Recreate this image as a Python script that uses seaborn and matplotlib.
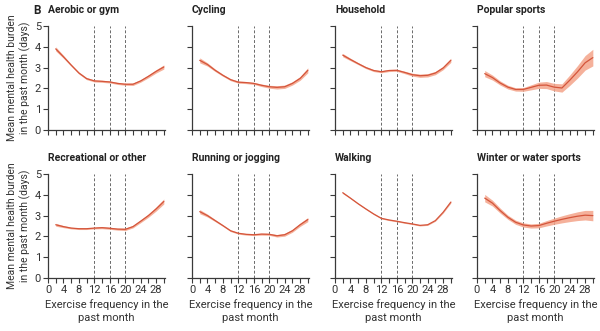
import matplotlib
matplotlib.use("Agg")
import matplotlib.pyplot as plt
import numpy as np
import pandas as pd
import seaborn as sns

# Exercise frequency (days in past month) at which the model was evaluated
freq = [2, 4, 6, 8, 10, 12, 14, 16, 18, 20, 22, 24, 26, 28, 30]

panel_titles = ["Aerobic or gym", "Cycling", "Household", "Popular sports",
                "Recreational or other", "Running or jogging", "Walking",
                "Winter or water sports"]

# Mean mental health burden (days) for each exercise type
aerobic = [3.90, 3.52, 3.12, 2.74, 2.47, 2.36, 2.34, 2.31, 2.24, 2.20, 2.20, 2.36, 2.58, 2.82, 3.03]
cycling = [3.35, 3.15, 2.87, 2.63, 2.42, 2.30, 2.28, 2.24, 2.15, 2.08, 2.05, 2.08, 2.24, 2.48, 2.87]
household = [3.60, 3.39, 3.19, 3.00, 2.86, 2.80, 2.86, 2.87, 2.77, 2.66, 2.61, 2.63, 2.74, 2.98, 3.35]
popular = [2.71, 2.52, 2.26, 2.06, 1.95, 1.95, 2.05, 2.15, 2.16, 2.06, 2.02, 2.39, 2.79, 3.23, 3.48]
recreational = [2.56, 2.47, 2.40, 2.37, 2.37, 2.40, 2.42, 2.39, 2.35, 2.34, 2.47, 2.73, 3.00, 3.32, 3.68]
running = [3.19, 3.00, 2.76, 2.52, 2.27, 2.15, 2.10, 2.08, 2.11, 2.10, 2.03, 2.08, 2.27, 2.56, 2.81]
walking = [4.10, 3.84, 3.57, 3.32, 3.08, 2.87, 2.79, 2.73, 2.66, 2.60, 2.53, 2.56, 2.76, 3.16, 3.65]
winter = [3.84, 3.60, 3.24, 2.92, 2.68, 2.55, 2.50, 2.52, 2.63, 2.73, 2.82, 2.90, 2.97, 3.02, 3.00]

# Half-width of the 95% confidence band
aerobic_ci = [0.10, 0.07, 0.05, 0.05, 0.05, 0.05, 0.05, 0.05, 0.05, 0.05, 0.06, 0.06, 0.07, 0.08, 0.10]
cycling_ci = [0.12, 0.08, 0.06, 0.05, 0.05, 0.05, 0.05, 0.05, 0.06, 0.07, 0.08, 0.08, 0.08, 0.09, 0.12]
household_ci = [0.08, 0.06, 0.05, 0.05, 0.05, 0.05, 0.05, 0.05, 0.06, 0.07, 0.08, 0.08, 0.08, 0.08, 0.10]
popular_ci = [0.15, 0.12, 0.10, 0.09, 0.08, 0.09, 0.12, 0.15, 0.17, 0.18, 0.20, 0.25, 0.30, 0.35, 0.40]
recreational_ci = [0.07, 0.05, 0.04, 0.04, 0.04, 0.04, 0.05, 0.05, 0.05, 0.06, 0.06, 0.07, 0.08, 0.10, 0.12]
running_ci = [0.10, 0.07, 0.05, 0.04, 0.04, 0.04, 0.04, 0.04, 0.05, 0.05, 0.06, 0.07, 0.07, 0.08, 0.10]
walking_ci = [0.04, 0.03, 0.03, 0.03, 0.03, 0.03, 0.03, 0.03, 0.03, 0.03, 0.03, 0.03, 0.03, 0.04, 0.05]
winter_ci = [0.18, 0.14, 0.12, 0.10, 0.10, 0.10, 0.10, 0.11, 0.13, 0.15, 0.17, 0.19, 0.21, 0.23, 0.25]

x_ticks_major = [0, 4, 8, 12, 16, 20, 24, 28]
x_ticks_minor = [2, 6, 10, 14, 18, 22, 26, 30]
y_ticks = [0, 1, 2, 3, 4, 5]
ref_lines = [12, 16, 20]

means = [aerobic, cycling, household, popular, recreational, running, walking, winter]
cis = [aerobic_ci, cycling_ci, household_ci, popular_ci, recreational_ci, running_ci, walking_ci, winter_ci]

frames = []
for title, m, c in zip(panel_titles, means, cis):
    frames.append(pd.DataFrame({"type": title, "freq": freq, "mean": m, "ci": c}))
df = pd.concat(frames, ignore_index=True)
df["lower"] = df["mean"] - df["ci"]
df["upper"] = df["mean"] + df["ci"]

sns.set_style("ticks")
plt.rcParams["font.family"] = ["Roboto", "DejaVu Sans"]

LINE = "#d4553b"
BAND = "#f4a48a"
AX = "#3a3a3a"
TXT = "#333333"

W, H = 600, 331
fig = plt.figure(figsize=(W / 100, H / 100), dpi=100)

col_left = [48, 192, 335, 477]
row_bottom = [201, 53]
ax_w, ax_h = 117, 104

for i, title in enumerate(panel_titles):
    r, c = divmod(i, 4)
    ax = fig.add_axes([col_left[c] / W, row_bottom[r] / H, ax_w / W, ax_h / H])
    sub = df[df["type"] == title]

    for xv in ref_lines:
        ax.plot([xv, xv], [0, 5], color="#6a6a6a", lw=0.7, ls=(0, (3, 2)), zorder=1)

    ax.fill_between(sub["freq"], sub["lower"], sub["upper"], color=BAND,
                    alpha=0.85, lw=0, zorder=2)
    sns.lineplot(data=sub, x="freq", y="mean", ax=ax, color=LINE, lw=0.9,
                 zorder=3, errorbar=None)

    ax.set_xlim(0, 30.3)
    ax.set_ylim(0, 5)
    ax.set_xticks(x_ticks_major)
    ax.set_xticks(x_ticks_minor, minor=True)
    ax.set_yticks(y_ticks)
    ax.tick_params(axis="both", which="both", direction="out", length=3.5,
                   width=0.8, color=AX, labelsize=8, labelcolor=TXT, pad=1.5)
    sns.despine(ax=ax)
    for s in ("left", "bottom"):
        ax.spines[s].set_color(AX)
        ax.spines[s].set_linewidth(0.9)
    ax.spines["bottom"].set_bounds(0, 30.3)

    if r == 0:
        ax.set_xticklabels([])
        ax.set_xlabel("")
    else:
        ax.set_xlabel("Exercise frequency in the\npast month", fontsize=8,
                      color=TXT, labelpad=3, linespacing=1.35)
    if c == 0:
        ax.set_ylabel("Mean mental health burden\nin the past month (days)",
                      fontsize=7.5, color=TXT, labelpad=3, linespacing=1.25)
    else:
        ax.set_yticklabels([])
        ax.set_ylabel("")

    ax.text(0.0, 1.15, title, transform=ax.transAxes, fontsize=7.5,
            fontweight="bold", color="#222222", ha="left", va="center")

fig.text(33 / W, 1 - 10 / H, "B", fontsize=8.5, fontweight="bold",
         color="#222222", ha="left", va="center")

fig.savefig("out.png", dpi=100)
